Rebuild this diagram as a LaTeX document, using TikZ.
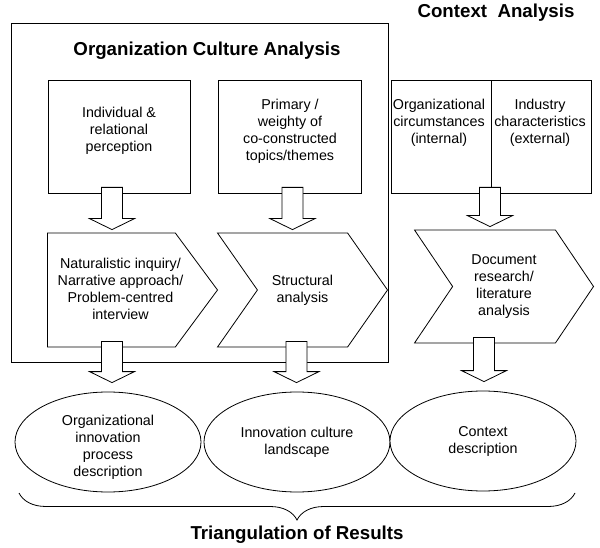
\documentclass[tikz,border=0pt]{standalone}
\usepackage{fontspec}
\setmainfont{Liberation Sans}
\usetikzlibrary{shapes.geometric,shapes.symbols,calc,decorations.pathreplacing}
\tikzset{stage/.style={rectangle,draw=black,thick,fill=white,inner sep=0pt},
txt/.style={align=center,inner sep=0pt,font=\fontsize{14.3}{17}\selectfont},
heading/.style={inner sep=0pt,font=\fontsize{18.7}{22}\selectfont\bfseries},
chev/.style={signal,signal to=east,draw=black,thick,fill=white,inner sep=0pt,
minimum height=114pt,txt},
result/.style={ellipse,draw=black,thick,fill=white,inner sep=0pt,
minimum width=186pt,minimum height=100pt,txt},
fat/.style={draw=black,thick,fill=white}}
\newcommand{\fatarrow}[4]{
\coordinate (top) at ($(#1,0 |- #2.south)+(0,-6)$);
\coordinate (tip) at ($(#1,0 |- #3.north)+(0,-#4)$);
\draw [fat] ($(top)+(-10.5,0)$) -- ($(tip)+(-10.5,-11)$) -- ($(tip)+(-22.5,-11)$) -- (tip)
  -- ($(tip)+(22.5,-11)$) -- ($(tip)+(10.5,-11)$) -- ($(top)+(10.5,0)$) -- cycle;
}

\begin{document}
\begin{tikzpicture}[x=1pt,y=-1pt]
  \useasboundingbox (0,0) rectangle (600,548);

  \node (frame) [stage,minimum width=377pt,minimum height=339pt] at (199.5,192.5) {};
  \node (octitle) [heading] at (207,51) {Organization Culture Analysis};
  \node (cxtitle) [heading] at (496,13) {Context\ \ Analysis};

  \node (indiv) [stage,minimum width=142pt,minimum height=113pt] at (119,136.5) {};
  \node (primary) [stage,minimum width=143pt,minimum height=113pt] at (289.5,136.5) {};
  \node (intern) [stage,minimum width=100pt,minimum height=113pt] at (441,136.5) {};
  \node (extern) [stage,minimum width=100pt,minimum height=113pt] at (541,136.5) {};
  \node (indivtxt) [txt] at (119,131) {Individual \&\\relational\\perception};
  \node (primarytxt) [txt] at (290,131.5) {Primary /\\weighty of\\co-constructed\\topics/themes};
  \node (interntxt) [txt] at (439,123) {Organizational\\circumstances\\(internal)};
  \node (externtxt) [txt] at (540,123) {Industry\\characteristics\\(external)};

  \node (narrative) [chev,signal pointer angle=107,minimum width=170pt,anchor=east] at (218,290) {};
  \node (narrativetxt) [txt] at (120.5,288.5)
    {Naturalistic inquiry/\\Narrative approach/\\Problem-centred\\interview};
  \node (structural) [chev,signal from=west,signal pointer angle=110,minimum width=170pt,anchor=east] at (388,290)
    {Structural\\analysis};
  \node (document) [chev,signal from=west,signal pointer angle=112,minimum width=179pt,
    minimum height=113pt,anchor=east] at (594,286.5)
    {Document\\research/\\literature\\analysis};

  \node (process) [result] at (108,442) {};
  \node (processtxt) [txt] at (108,447) {Organizational\\innovation\\process\\description};
  \node (landscape) [result] at (297,442) {Innovation culture\\landscape};
  \node (context) [result] at (483,441) {Context\\description};

  \fatarrow{112}{indiv}{narrative}{3}
  \fatarrow{292.5}{primary}{structural}{3}
  \fatarrow{490}{intern}{document}{3}
  \fatarrow{112}{narrative}{process}{9}
  \fatarrow{296.5}{structural}{landscape}{9}
  \fatarrow{484}{document}{context}{9}

  \draw [thick,decorate,decoration={brace,mirror,amplitude=27pt}] (19,493) -- (575,493);
  \node (triang) [heading] at (297,535) {Triangulation of Results};
\end{tikzpicture}
\end{document}
